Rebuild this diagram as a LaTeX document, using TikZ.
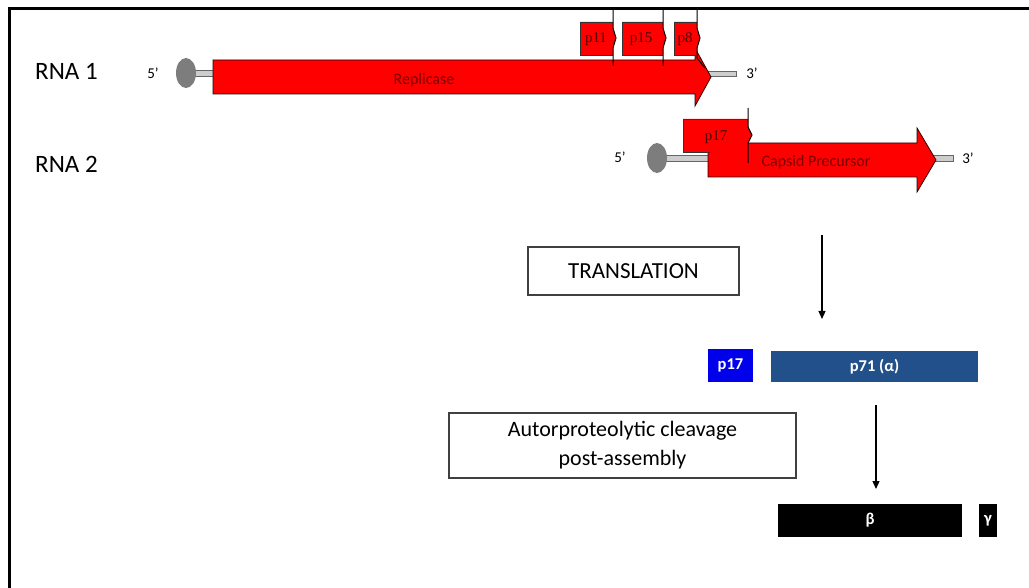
\documentclass[tikz,border=0pt]{standalone}
\usepackage{fontspec}
\setmainfont{Carlito}
\newfontfamily\serifp{Liberation Serif}
\usetikzlibrary{arrows.meta,shapes.geometric}
\definecolor{genered}{RGB}{255,0,0}
\definecolor{txtred}{RGB}{120,0,0}
\definecolor{pblue}{RGB}{0,0,235}
\definecolor{qblue}{RGB}{33,80,138}
\definecolor{capgrey}{RGB}{125,125,125}
\definecolor{rodgrey}{RGB}{205,205,205}
\begin{document}
\begin{tikzpicture}[x=1pt,y=-1pt,
  gene/.style={fill=genered,draw=black!85!red,line width=0.8pt},
  rod/.style={fill=rodgrey,draw=black!60,line width=0.6pt},
  capnode/.style={ellipse,fill=capgrey,draw=none,minimum width=20pt,minimum height=30pt,inner sep=0pt},
  rnalbl/.style={font=\fontsize{25}{29}\selectfont,inner sep=0pt,anchor=west},
  primelbl/.style={font=\fontsize{15}{17}\selectfont,inner sep=0pt},
  genetxt/.style={font=\fontsize{16}{18}\selectfont,text=txtred,inner sep=0pt},
  ptxt/.style={font=\serifp\fontsize{15}{17}\selectfont,text=txtred!70!black,inner sep=0pt},
  stepbox/.style={draw=black!75,line width=1.1pt,fill=white,align=center,inner sep=0pt,
                  font=\fontsize{22}{29}\selectfont},
  protbox/.style={inner sep=0pt,text=white,font=\bfseries\fontsize{16.5}{18}\selectfont},
  flowarrow/.style={line width=1.2pt,-{Triangle[width=7pt,length=8pt]}},
  tick/.style={line width=1pt,draw=black}
]
\useasboundingbox (0,0) rectangle (1029,588);
% frame
\draw[line width=3pt] (9,588) -- (9,9) -- (1029,9);

% ---------- RNA 1 ----------
\node[rnalbl] (rna1) at (35,71) {RNA 1};
\node[primelbl] (fivea) at (153,73) {5'};
\draw[rod] (186,70) rectangle (215,76);
\draw[rod] (705,71) rectangle (736,76);
\node[capnode] (capa) at (186,73) {};
\draw[gene] (213,60) -- (695,60) -- (695,48) -- (711,77) -- (695,106) -- (695,94) -- (213,94) -- cycle;
\node[genetxt] (replicase) at (424,80) {Replicase};
\node[primelbl] (threea) at (752,73) {3'};

% small ORFs
\fill[genered] (580,22) -- (613,22) -- (613,28) -- (616,38) -- (613,48) -- (613,55) -- (580,55) -- cycle;
\draw[black!80,line width=0.6pt] (613,55) -- (580,55) -- (580,22) -- (613,22);
\draw[tick] (613,10) -- (613,28) -- (616,38) -- (613,48) -- (613,66);
\node[ptxt] (p11) at (596,39) {p11};

\fill[genered] (622,22) -- (663,22) -- (663,28) -- (666,38) -- (663,48) -- (663,55) -- (622,55) -- cycle;
\draw[black!80,line width=0.6pt] (663,55) -- (622,55) -- (622,22) -- (663,22);
\draw[tick] (663,10) -- (663,28) -- (666,38) -- (663,48) -- (663,66);
\node[ptxt] (p15) at (641,39) {p15};

\fill[genered] (674,22) -- (697,22) -- (697,28) -- (700,38) -- (697,48) -- (697,55) -- (674,55) -- cycle;
\draw[black!80,line width=0.6pt] (697,55) -- (674,55) -- (674,22) -- (697,22);
\draw[tick] (697,10) -- (697,28) -- (700,38) -- (697,48) -- (697,58) -- (705,68);
\node[ptxt] (p8) at (685,39) {p8};

% ---------- RNA 2 ----------
\node[rnalbl] (rna2) at (35,164) {RNA 2};
\node[primelbl] (fiveb) at (620,157) {5'};
\draw[rod] (657,155) rectangle (712,161);
\draw[rod] (930,155) rectangle (953,161);
\node[capnode] (capb) at (657,158) {};
\draw[gene] (708,143) -- (917,143) -- (917,128) -- (936,160) -- (917,192) -- (917,177) -- (708,177) -- cycle;
\node[genetxt] (capsid) at (816,162) {Capsid Precursor};
\node[primelbl] (threeb) at (968,158) {3'};

\fill[genered] (683,119) -- (748,119) -- (748,127) -- (752,135) -- (748,143) -- (748,152) -- (683,152) -- cycle;
\draw[black!80,line width=0.6pt] (710,152) -- (683,152) -- (683,119) -- (748,119);
\draw[tick] (748,108) -- (748,127) -- (752,135) -- (748,143) -- (748,163);
\node[ptxt] (p17g) at (716,137) {p17};

% ---------- steps ----------
\node[stepbox,minimum width=211pt,minimum height=48pt,font=\fontsize{23}{27}\selectfont] (transl) at (633.5,271) {TRANSLATION};
\coordinate (a1s) at (822,235);
\coordinate (a1e) at (822,319);
\draw[flowarrow] (a1s) -- (a1e);

\node[protbox,fill=pblue,minimum width=45pt,minimum height=33pt] (p17p) at (730.5,365.5) {p17};
\node[protbox,fill=qblue,minimum width=207pt,minimum height=31pt] (p71) at (874.5,366.5) {p71 (α)};

\node[stepbox,minimum width=347pt,minimum height=65pt] (auto) at (622.5,445.5) {Autorproteolytic cleavage\\post-assembly};
\coordinate (a2s) at (876,405);
\coordinate (a2e) at (876,489);
\draw[flowarrow] (a2s) -- (a2e);

\node[protbox,fill=black,minimum width=184pt,minimum height=33pt] (beta) at (870,520.5) {β};
\node[protbox,fill=black,minimum width=18pt,minimum height=33pt] (gamma) at (988,520.5) {γ};
\end{tikzpicture}
\end{document}
